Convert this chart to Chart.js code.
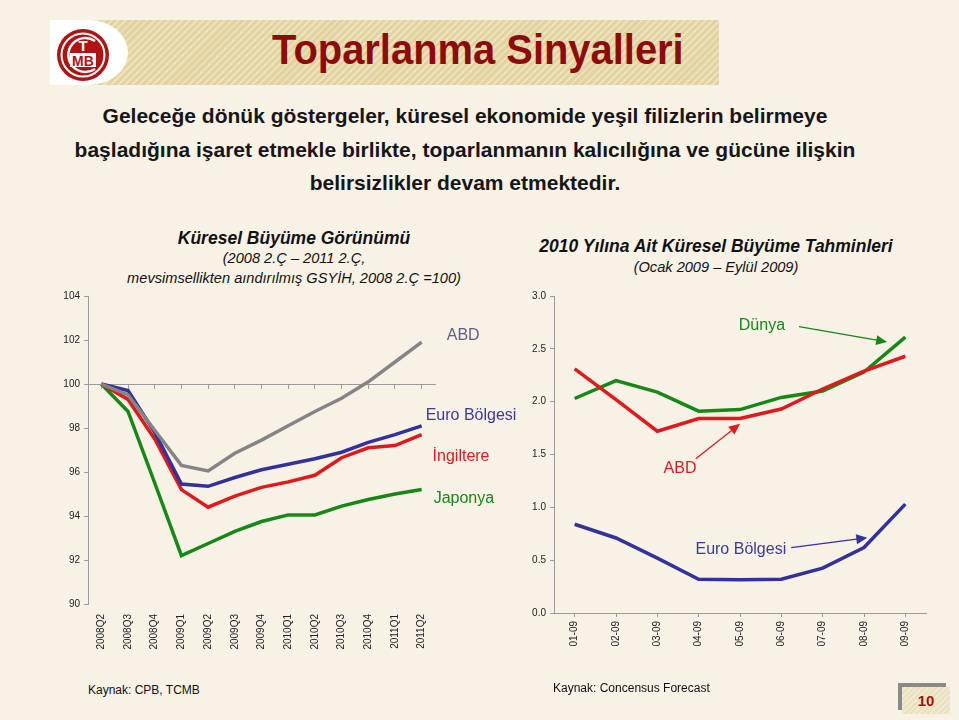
<!DOCTYPE html>
<html>
<head>
<meta charset="utf-8">
<script src="https://cdn.jsdelivr.net/npm/chart.js@4.4.0/dist/chart.umd.min.js"></script>
<style>
  body { margin: 0; width: 959px; height: 720px; background: #f8f1e6; font-family: 'Liberation Sans', Arial, sans-serif; position: relative; overflow: hidden; }
  .abs { position: absolute; }
  #banner { left: 50px; top: 20px; width: 669px; height: 65px;
    background: repeating-linear-gradient(135deg, #e2d3a0 0 3px, #ece2bd 3px 5px); }
  #logoKutu { left: 50px; top: 20px; width: 68px; height: 65px; background: #fff; border-radius: 0 40px 40px 0 / 0 33px 33px 0; padding-right: 10px; }
  #baslik { left: 272px; top: 26px; font-size: 42px; font-weight: bold; color: #8e0b0b; transform: scaleX(0.95); transform-origin: left top; white-space: nowrap; }
  #metin { left: 15px; top: 99px; width: 900px; text-align: center; font-size: 21px; font-weight: bold; line-height: 33.5px; color: #161616; }
  .grafBaslik { text-align: center; font-style: italic; color: #111; white-space: nowrap; }
  .grafBaslik b { font-size: 17.5px; }
  .grafBaslik span { font-size: 14.6px; }
  .kaynak { font-size: 12px; color: #111; }
  #sayfa { left: 902px; top: 687px; width: 48px; height: 27px; background: repeating-linear-gradient(135deg, #e9e0bd 0 2px, #f1ead0 2px 4px);
    box-shadow: -4px -4px 0 #8a8a8a; text-align: center; font-weight: bold; font-size: 15px; line-height: 27px; color: #a11010; }
</style>
</head>
<body>
<div id="banner" class="abs"></div>
<div id="logoKutu" class="abs"></div>
<svg class="abs" style="left:55px;top:27px" width="56" height="56" viewBox="0 0 56 56">
  <circle cx="28" cy="28" r="26" fill="#b01313"/>
  <circle cx="28" cy="28" r="21.5" fill="none" stroke="#fff" stroke-width="2"/>
  <path d="M 40 14 A 17 17 0 1 0 40 42" fill="none" stroke="#fff" stroke-width="2.5"/>
  <text x="28" y="24" text-anchor="middle" font-family="Liberation Sans" font-weight="bold" font-size="15" fill="#fff">T</text>
  <rect x="15" y="26" width="26" height="14" fill="#fff"/>
  <text x="28" y="38.5" text-anchor="middle" font-family="Liberation Sans" font-weight="bold" font-size="14" fill="#b01313">MB</text>
</svg>
<div id="baslik" class="abs">Toparlanma Sinyalleri</div>
<div id="metin" class="abs">Geleceğe dönük göstergeler, küresel ekonomide yeşil filizlerin belirmeye<br>başladığına işaret etmekle birlikte, toparlanmanın kalıcılığına ve gücüne ilişkin<br>belirsizlikler devam etmektedir.</div>

<div class="abs grafBaslik" style="left:94px;top:229px;width:400px;line-height:19px"><b>Küresel Büyüme Görünümü</b><br><span>(2008 2.Ç – 2011 2.Ç,</span><br><span>mevsimsellikten aındırılmış GSYİH, 2008 2.Ç =100)</span></div>
<div class="abs grafBaslik" style="left:516px;top:236px;width:400px;line-height:20px"><b>2010 Yılına Ait Küresel Büyüme Tahminleri</b><br><span>(Ocak 2009 – Eylül 2009)</span></div>

<canvas id="grafikGsyih" class="abs" style="left:40px;top:286px" width="480" height="380"></canvas>
<canvas id="grafikTahmin" class="abs" style="left:505px;top:286px" width="450" height="380"></canvas>

<div class="abs kaynak" style="left:88px;top:683px">Kaynak: CPB, TCMB</div>
<div class="abs kaynak" style="left:553px;top:681px">Kaynak: Concensus Forecast</div>
<div id="sayfa" class="abs">10</div>

<script>
// sol grafik: çeyreklik GSYİH endeksi (2008 2.Ç = 100)
const ceyrekler = ['2008Q2', '2008Q3', '2008Q4', '2009Q1', '2009Q2', '2009Q3', '2009Q4', '2010Q1', '2010Q2', '2010Q3', '2010Q4', '2011Q1', '2011Q2'];
const abdGsyih = [100, 99.5, 97.9, 96.3, 96.05, 96.85, 97.45, 98.1, 98.75, 99.35, 100.1, 101.0, 101.9];
const euroGsyih = [100, 99.7, 97.8, 95.45, 95.35, 95.75, 96.1, 96.35, 96.6, 96.9, 97.35, 97.7, 98.1];
const ingiltereGsyih = [100, 99.3, 97.5, 95.2, 94.4, 94.9, 95.3, 95.55, 95.85, 96.65, 97.1, 97.2, 97.7];
const japonyaGsyih = [100, 98.75, 95.5, 92.2, 92.75, 93.3, 93.75, 94.05, 94.05, 94.45, 94.75, 95.0, 95.2];

// sağ grafik: 2010 büyüme tahminleri
const aylar = ['01-09', '02-09', '03-09', '04-09', '05-09', '06-09', '07-09', '08-09', '09-09'];
const dunyaTahmin = [2.03, 2.2, 2.09, 1.91, 1.925, 2.04, 2.1, 2.28, 2.61];
const abdTahmin = [2.31, 2.02, 1.72, 1.84, 1.84, 1.93, 2.12, 2.29, 2.43];
const euroTahmin = [0.84, 0.71, 0.52, 0.32, 0.315, 0.32, 0.425, 0.62, 1.03];

const yazi = 'Liberation Sans';
const eksenRengi = '#9a9a9a';

const cizgi = (etiket, veri, renk) => ({
    label: etiket,
    data: veri,
    borderColor: renk,
    borderWidth: 3.5,
    pointRadius: 0,
    tension: 0,
    fill: false
});

// grafik üstüne yazı ve oklar
const etiketPlugin = {
    id: 'etiketler',
    afterDraw(chart, args, opts) {
        const ctx = chart.ctx;
        const xs = chart.scales.x, ys = chart.scales.y;
        ctx.save();
        ctx.font = '16px ' + yazi;
        ctx.textBaseline = 'middle';
        (opts.yazilar || []).forEach(t => {
            ctx.fillStyle = t.renk;
            ctx.textAlign = t.hiza || 'left';
            ctx.fillText(t.metin, xs.getPixelForValue(t.x), ys.getPixelForValue(t.y));
        });
        (opts.oklar || []).forEach(o => {
            const x1 = xs.getPixelForValue(o.x1), y1 = ys.getPixelForValue(o.y1);
            const x2 = xs.getPixelForValue(o.x2), y2 = ys.getPixelForValue(o.y2);
            const a = Math.atan2(y2 - y1, x2 - x1);
            ctx.strokeStyle = o.renk;
            ctx.fillStyle = o.renk;
            ctx.lineWidth = 1.3;
            ctx.beginPath();
            ctx.moveTo(x1, y1);
            ctx.lineTo(x2 - 9 * Math.cos(a), y2 - 9 * Math.sin(a));
            ctx.stroke();
            ctx.beginPath();
            ctx.moveTo(x2, y2);
            ctx.lineTo(x2 - 11 * Math.cos(a) + 5 * Math.sin(a), y2 - 11 * Math.sin(a) - 5 * Math.cos(a));
            ctx.lineTo(x2 - 11 * Math.cos(a) - 5 * Math.sin(a), y2 - 11 * Math.sin(a) + 5 * Math.cos(a));
            ctx.closePath();
            ctx.fill();
        });
        ctx.restore();
    }
};

const tikYazi = { family: yazi, size: 10 };

new Chart(document.getElementById('grafikGsyih'), {
    type: 'line',
    data: {
        labels: ceyrekler,
        datasets: [
            cizgi('ABD', abdGsyih, '#858585'),
            cizgi('Euro Bölgesi', euroGsyih, '#32329a'),
            cizgi('İngiltere', ingiltereGsyih, '#e0191c'),
            cizgi('Japonya', japonyaGsyih, '#168816')
        ]
    },
    options: {
        responsive: false,
        animation: false,
        layout: { padding: { top: 10, right: 85, left: 0, bottom: 0 } },
        plugins: {
            legend: { display: false },
            tooltip: { enabled: false },
            etiketler: {
                yazilar: [
                    { metin: 'ABD', x: 12.94, y: 102.2, renk: '#5e5e86' },
                    { metin: 'Euro Bölgesi', x: 12.15, y: 98.55, renk: '#3a3a9c' },
                    { metin: 'İngiltere', x: 12.41, y: 96.7, renk: '#e0191c' },
                    { metin: 'Japonya', x: 12.45, y: 94.8, renk: '#168816' }
                ]
            }
        },
        scales: {
            x: {
                type: 'category',
                offset: true,
                grid: { display: false },
                border: { display: false },
                ticks: { minRotation: 90, maxRotation: 90, padding: 2, color: '#222', font: tikYazi },
                afterFit: s => { s.height = 62; }
            },
            x100: {
                type: 'category',
                axis: 'x',
                position: { y: 100 },
                offset: true,
                grid: { drawOnChartArea: false, tickLength: 4, color: eksenRengi },
                border: { color: eksenRengi },
                ticks: { display: false }
            },
            y: {
                min: 90,
                max: 104,
                ticks: { stepSize: 2, color: '#222', font: tikYazi, padding: 4 },
                grid: { drawOnChartArea: false, tickLength: 4, color: eksenRengi },
                border: { color: eksenRengi },
                afterFit: s => { s.width = 48; }
            }
        }
    },
    plugins: [etiketPlugin]
});

new Chart(document.getElementById('grafikTahmin'), {
    type: 'line',
    data: {
        labels: aylar,
        datasets: [
            cizgi('ABD', abdTahmin, '#e0191c'),
            cizgi('Dünya', dunyaTahmin, '#168816'),
            cizgi('Euro Bölgesi', euroTahmin, '#32329a')
        ]
    },
    options: {
        responsive: false,
        animation: false,
        layout: { padding: { top: 10, right: 29, left: 0, bottom: 0 } },
        plugins: {
            legend: { display: false },
            tooltip: { enabled: false },
            etiketler: {
                yazilar: [
                    { metin: 'Dünya', x: 4.53, y: 2.72, renk: '#168816', hiza: 'center' },
                    { metin: 'ABD', x: 2.55, y: 1.37, renk: '#e0191c', hiza: 'center' },
                    { metin: 'Euro Bölgesi', x: 4.02, y: 0.6, renk: '#3a3a9c', hiza: 'center' }
                ],
                oklar: [
                    { x1: 5.43, y1: 2.71, x2: 7.56, y2: 2.565, renk: '#168816' },
                    { x1: 2.93, y1: 1.46, x2: 4.0, y2: 1.79, renk: '#e0191c' },
                    { x1: 5.24, y1: 0.618, x2: 7.08, y2: 0.712, renk: '#32329a' }
                ]
            }
        },
        scales: {
            x: {
                type: 'category',
                offset: true,
                grid: { drawOnChartArea: false, tickLength: 4, color: eksenRengi },
                border: { color: eksenRengi },
                ticks: { minRotation: 90, maxRotation: 90, padding: 4, color: '#222', font: tikYazi },
                afterFit: s => { s.height = 53; }
            },
            y: {
                min: 0,
                max: 3,
                ticks: { stepSize: 0.5, color: '#222', font: tikYazi, padding: 4, callback: v => v.toFixed(1) },
                grid: { drawOnChartArea: false, tickLength: 4, color: eksenRengi },
                border: { color: eksenRengi },
                afterFit: s => { s.width = 49; }
            }
        }
    },
    plugins: [etiketPlugin]
});
</script>
</body>
</html>
